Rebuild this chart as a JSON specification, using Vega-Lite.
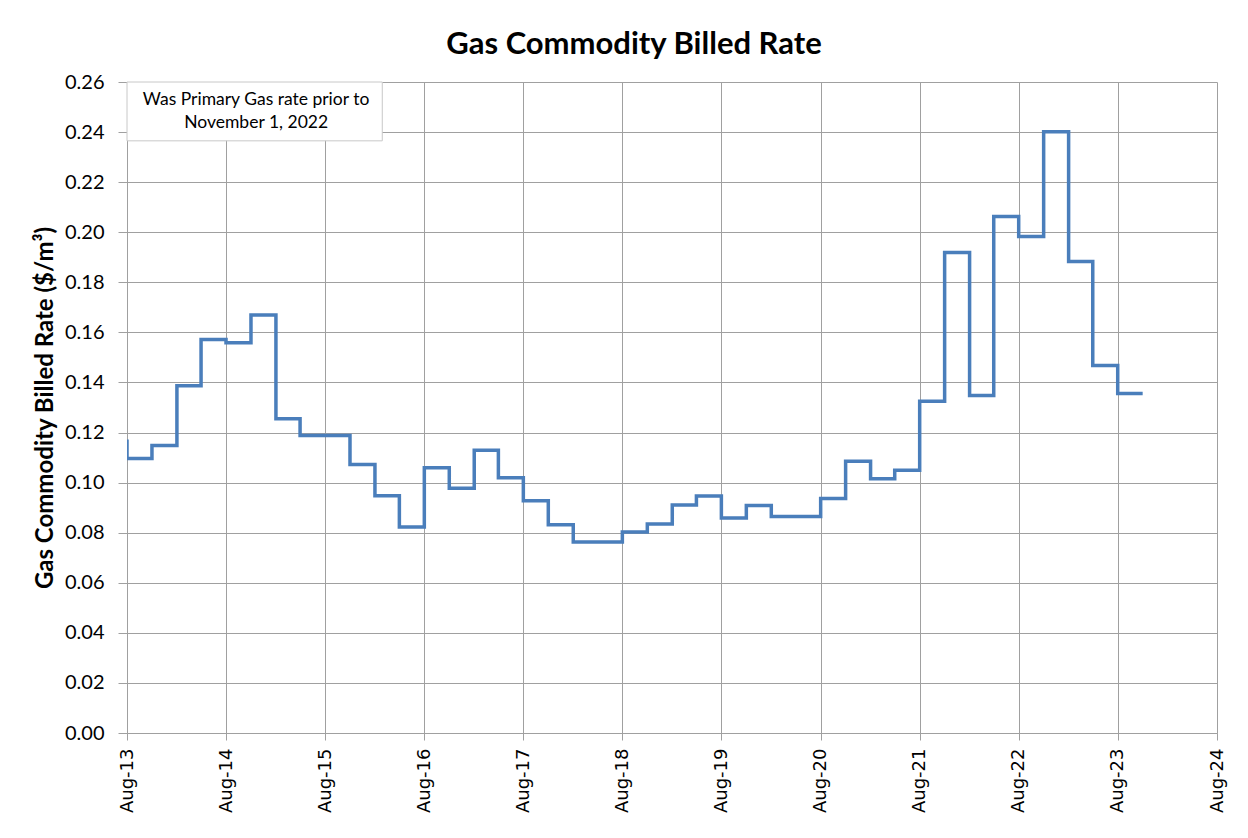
{
  "$schema": "https://vega.github.io/schema/vega-lite/v6.json",
  "autosize": "none",
  "width": 1090,
  "height": 651,
  "padding": {"left": 127, "top": 82, "right": 31, "bottom": 105},
  "background": "white",
  "config": {
    "view": {"stroke": null},
    "axis": {"gridColor": "#a0a0a0", "domainColor": "#a0a0a0", "tickColor": "#a0a0a0", "labelColor": "#000000", "titleColor": "#000000", "gridOpacity": 1}
  },
  "title": {
    "text": "Gas Commodity Billed Rate",
    "font": "Lato",
    "fontSize": 31,
    "fontWeight": "bold",
    "color": "#000000",
    "anchor": "middle",
    "dx": -38,
    "baseline": "alphabetic",
    "offset": -13
  },
  "datasets": {
    "rates": [
      {"date": "2013-07-01T00:00:00", "rate": 0.1165},
      {"date": "2013-08-01T00:00:00", "rate": 0.1096},
      {"date": "2013-11-01T00:00:00", "rate": 0.1148},
      {"date": "2014-02-01T00:00:00", "rate": 0.1387},
      {"date": "2014-05-01T00:00:00", "rate": 0.1572},
      {"date": "2014-08-01T00:00:00", "rate": 0.1559},
      {"date": "2014-11-01T00:00:00", "rate": 0.1669},
      {"date": "2015-02-01T00:00:00", "rate": 0.1255},
      {"date": "2015-05-01T00:00:00", "rate": 0.1188},
      {"date": "2015-08-01T00:00:00", "rate": 0.1188},
      {"date": "2015-11-01T00:00:00", "rate": 0.1072},
      {"date": "2016-02-01T00:00:00", "rate": 0.0948},
      {"date": "2016-05-01T00:00:00", "rate": 0.0823},
      {"date": "2016-08-01T00:00:00", "rate": 0.1059},
      {"date": "2016-11-01T00:00:00", "rate": 0.0977},
      {"date": "2017-02-01T00:00:00", "rate": 0.1129},
      {"date": "2017-05-01T00:00:00", "rate": 0.1019},
      {"date": "2017-08-01T00:00:00", "rate": 0.0928},
      {"date": "2017-11-01T00:00:00", "rate": 0.0832},
      {"date": "2018-02-01T00:00:00", "rate": 0.0763},
      {"date": "2018-05-01T00:00:00", "rate": 0.0763},
      {"date": "2018-08-01T00:00:00", "rate": 0.0803},
      {"date": "2018-11-01T00:00:00", "rate": 0.0835},
      {"date": "2019-02-01T00:00:00", "rate": 0.0911},
      {"date": "2019-05-01T00:00:00", "rate": 0.0947},
      {"date": "2019-08-01T00:00:00", "rate": 0.0859},
      {"date": "2019-11-01T00:00:00", "rate": 0.0909},
      {"date": "2020-02-01T00:00:00", "rate": 0.0865},
      {"date": "2020-05-01T00:00:00", "rate": 0.0865},
      {"date": "2020-08-01T00:00:00", "rate": 0.0937},
      {"date": "2020-11-01T00:00:00", "rate": 0.1085},
      {"date": "2021-02-01T00:00:00", "rate": 0.1015},
      {"date": "2021-05-01T00:00:00", "rate": 0.1049},
      {"date": "2021-08-01T00:00:00", "rate": 0.1325},
      {"date": "2021-11-01T00:00:00", "rate": 0.1919},
      {"date": "2022-02-01T00:00:00", "rate": 0.1348},
      {"date": "2022-05-01T00:00:00", "rate": 0.2063},
      {"date": "2022-08-01T00:00:00", "rate": 0.1983},
      {"date": "2022-11-01T00:00:00", "rate": 0.2401},
      {"date": "2023-02-01T00:00:00", "rate": 0.1883},
      {"date": "2023-05-01T00:00:00", "rate": 0.1468},
      {"date": "2023-08-01T00:00:00", "rate": 0.1356},
      {"date": "2023-11-01T00:00:00", "rate": 0.1356}
    ],
    "notebox": [
      {"date": "2013-08-01T00:00:00", "date2": "2016-02-28T00:00:00", "rate": 0.26, "rate2": 0.2365}
    ],
    "notetext": [
      {"date": "2014-11-20T00:00:00", "rate": 0.2528, "label": "Was Primary Gas rate prior to\nNovember 1, 2022"}
    ]
  },
  "encoding": {
    "x": {
      "field": "date",
      "type": "temporal",
      "scale": {
        "domain": [{"year": 2013, "month": 8, "date": 1}, {"year": 2024, "month": 8, "date": 1}],
        "nice": false
      },
      "axis": {
        "title": null,
        "format": "%b-%y",
        "values": [
          {"year": 2013, "month": 8, "date": 1},
          {"year": 2014, "month": 8, "date": 1},
          {"year": 2015, "month": 8, "date": 1},
          {"year": 2016, "month": 8, "date": 1},
          {"year": 2017, "month": 8, "date": 1},
          {"year": 2018, "month": 8, "date": 1},
          {"year": 2019, "month": 8, "date": 1},
          {"year": 2020, "month": 8, "date": 1},
          {"year": 2021, "month": 8, "date": 1},
          {"year": 2022, "month": 8, "date": 1},
          {"year": 2023, "month": 8, "date": 1},
          {"year": 2024, "month": 8, "date": 1}
        ],
        "labelAngle": 270,
        "labelFont": "DejaVu Sans",
        "labelFontSize": 18,
        "tickSize": 7,
        "labelPadding": 8,
        "grid": true,
        "labelOverlap": false,
        "labelFlush": false
      }
    },
    "y": {
      "field": "rate",
      "type": "quantitative",
      "scale": {"domain": [0, 0.26], "nice": false, "zero": true},
      "axis": {
        "title": "Gas Commodity  Billed Rate ($/m³)",
        "titleFont": "Lato",
        "titleFontSize": 24,
        "titleFontWeight": "bold",
        "titlePadding": 7,
        "format": ".2f",
        "values": [0, 0.02, 0.04, 0.06, 0.08, 0.1, 0.12, 0.14, 0.16, 0.18, 0.2, 0.22, 0.24, 0.26],
        "labelFont": "Lato",
        "labelFontSize": 20,
        "tickSize": 9,
        "labelPadding": 14,
        "grid": true,
        "labelOverlap": false,
        "labelFlush": false
      }
    }
  },
  "layer": [
    {
      "data": {"name": "notebox"},
      "mark": {"type": "rect", "fill": "white", "stroke": "#c8c8c8", "strokeWidth": 1},
      "encoding": {
        "x2": {"field": "date2"},
        "y2": {"field": "rate2"}
      }
    },
    {
      "data": {"name": "rates"},
      "mark": {"type": "line", "interpolate": "step-after", "color": "#4a7ebb", "strokeWidth": 3.5, "clip": true}
    },
    {
      "data": {"name": "notetext"},
      "mark": {"type": "text", "font": "Lato", "fontSize": 17.5, "color": "#000000", "align": "center", "baseline": "middle", "lineBreak": "\n", "lineHeight": 23},
      "encoding": {
        "text": {"field": "label", "type": "nominal"}
      }
    }
  ]
}
